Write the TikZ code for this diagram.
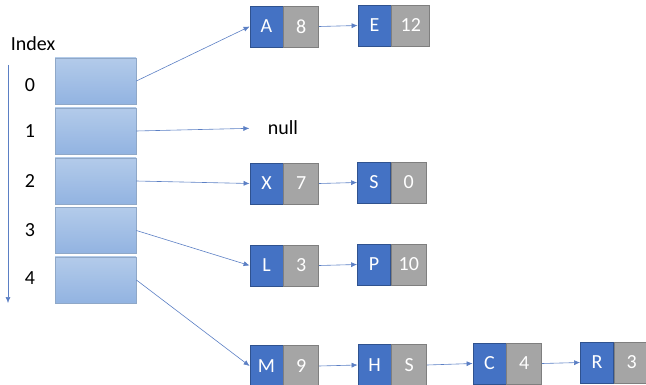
\documentclass[tikz,border=0pt]{standalone}
\usepackage{fontspec}
\setmainfont{Carlito}
\usetikzlibrary{positioning,arrows.meta}
\definecolor{keyblue}{HTML}{4472C4}
\definecolor{keyedge}{HTML}{2F528F}
\definecolor{valgray}{HTML}{A5A5A5}
\definecolor{valedge}{HTML}{7F7F7F}
\definecolor{lnblue}{HTML}{5B7FC4}
\definecolor{bktop}{HTML}{B3CBEA}
\definecolor{bkbot}{HTML}{92B3E1}
\definecolor{bkedge}{HTML}{8FA8C8}
\tikzset{
	key/.style={rectangle,fill=keyblue,draw=keyedge,line width=0.8pt,text=white,minimum width=33pt,minimum height=41pt,inner sep=0pt},
	val/.style={rectangle,fill=valgray,draw=valedge,line width=0.8pt,text=white,minimum width=35pt,minimum height=41pt,inner sep=0pt},
	bucket/.style={rectangle,top color=bktop,bottom color=bkbot,draw=bkedge,line width=0.8pt,minimum width=81pt,minimum height=46pt},
	link/.style={draw=lnblue,line width=0.6pt,-{Latex[length=6pt,width=5pt]}}
}
\begin{document}
\begin{tikzpicture}[x=1pt,y=-1pt,font=\fontsize{20}{22}\selectfont]
			\useasboundingbox (0,0) rectangle (646,385);
			
			% index column
			\node (idx) at (33,44) {Index};
			\coordinate (top) at (8,65);
			\coordinate (bot) at (8,303);
			\draw [link] (top) -- (bot);
			\node (i0) at (30,85) {0};
			\node (i1) at (30,131) {1};
			\node (i2) at (30,181) {2};
			\node (i3) at (30,230) {3};
			\node (i4) at (30,278) {4};
			
			% buckets
			\begin{scope}[every node/.style={bucket}]
				\node (b0) at (95.5,81) {};
				\node (b1) at (95.5,131) {};
				\node (b2) at (95.5,181) {};
				\node (b3) at (95.5,230.5) {};
				\node (b4) at (95.5,280) {};
			\end{scope}
			
			% list entries
			\node [key] (A) at (266.5,26.5) {A};
			\node [val,right=0pt of A] (Av) {8};
			\node [key] (E) at (374.5,25.5) {E};
			\node [val,right=0pt of E,minimum width=38pt] (Ev) {12};
			
			\node (nul) at (283,128) {null};
			
			\node [key] (X) at (266.5,183.5) {X};
			\node [val,right=0pt of X] (Xv) {7};
			\node [key] (S) at (374,182.5) {S};
			\node [val,right=0pt of S] (Sv) {0};
			
			\node [key] (L) at (266.5,265.5) {L};
			\node [val,right=0pt of L] (Lv) {3};
			\node [key] (P) at (374,264.5) {P};
			\node [val,right=0pt of P] (Pv) {10};
			
			\node [key] (M) at (266.5,366) {M};
			\node [val,right=0pt of M] (Mv) {9};
			\node [key] (H) at (374.5,365) {H};
			\node [val,right=0pt of H] (Hv) {S};
			\node [key] (C) at (489.5,363.5) {C};
			\node [val,right=0pt of C] (Cv) {4};
			\node [key] (R) at (597,362.5) {R};
			\node [val,right=0pt of R] (Rv) {3};
			
			\begin{scope}[every edge/.style={link}]
				\path (b0.east) edge (A.west);
				\path (b1.east) edge [shorten >=15pt] (nul.west);
				\path (b2.east) edge (X.west);
				\path (b3.east) edge (L.west);
				\path (b4.east) edge (M.west);
				\path (Av.east) edge (E.west);
				\path (Xv.east) edge (S.west);
				\path (Lv.east) edge (P.west);
				\path (Mv.east) edge (H.west);
				\path (Hv.east) edge (C.west);
				\path (Cv.east) edge (R.west);
			\end{scope}
		\end{tikzpicture}
\end{document}
